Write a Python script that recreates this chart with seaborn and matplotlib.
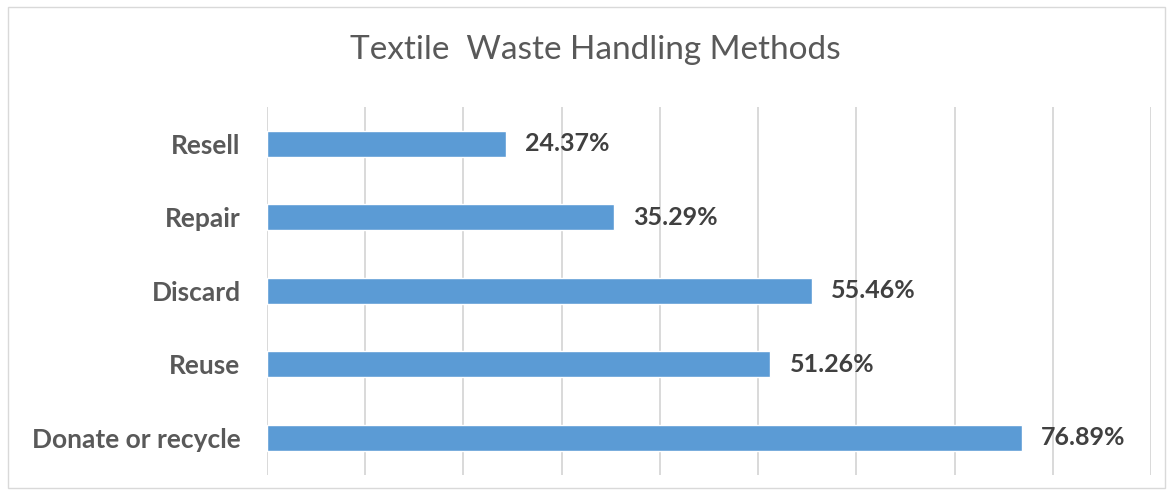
import matplotlib
matplotlib.use("Agg")
import matplotlib.pyplot as plt
import seaborn as sns
import pandas as pd
from matplotlib.patches import Rectangle

methods = ["Resell", "Repair", "Discard", "Reuse", "Donate or recycle"]
shares = [24.37, 35.29, 55.46, 51.26, 76.89]
value_labels = ["24.37%", "35.29%", "55.46%", "51.26%", "76.89%"]

sns.set_theme(style="white")
plt.rcParams["font.family"] = ["Lato", "DejaVu Sans"]

df = pd.DataFrame({"method": methods, "share": shares})

fig = plt.figure(figsize=(11.75, 4.97), dpi=100)
ax = fig.add_axes([267 / 1175, 1 - 474.5 / 497, (1151 - 267) / 1175, (474.5 - 107) / 497])

sns.barplot(data=df, y="method", x="share", orient="h", color="#5B9BD5",
            width=0.35, saturation=1, ax=ax, zorder=3)

ax.set_xlim(0, 90)
ax.set_xticks(range(0, 91, 10))
ax.set_xticklabels([])
ax.tick_params(axis="x", length=0)
ax.tick_params(axis="y", length=0, pad=19)
ax.xaxis.grid(True, color="#d9d9d9", linewidth=1.4, zorder=0)
ax.yaxis.grid(False)
for s in ax.spines.values():
    s.set_visible(False)
ax.set_xlabel("")
ax.set_ylabel("")
for lbl in ax.get_yticklabels():
    lbl.set_fontweight("bold")
    lbl.set_color("#595959")
    lbl.set_fontsize(19)

for i, (v, t) in enumerate(zip(shares, value_labels)):
    ax.annotate(t, xy=(v, i), xytext=(19, 0), textcoords="offset pixels",
                va="center", ha="left", fontsize=18, fontweight="bold", color="#404040")

fig.text(595 / 1175, 1 - 50 / 497, "Textile  Waste Handling Methods", ha="center", va="center",
         fontsize=24, color="#595959")

fig.patches.append(Rectangle((8 / 1175, 9 / 497), (1165 - 8) / 1175, (490 - 9) / 497,
                             transform=fig.transFigure, fill=False, edgecolor="#d9d9d9",
                             linewidth=1.0, figure=fig))

fig.savefig("out.png", dpi=100)
